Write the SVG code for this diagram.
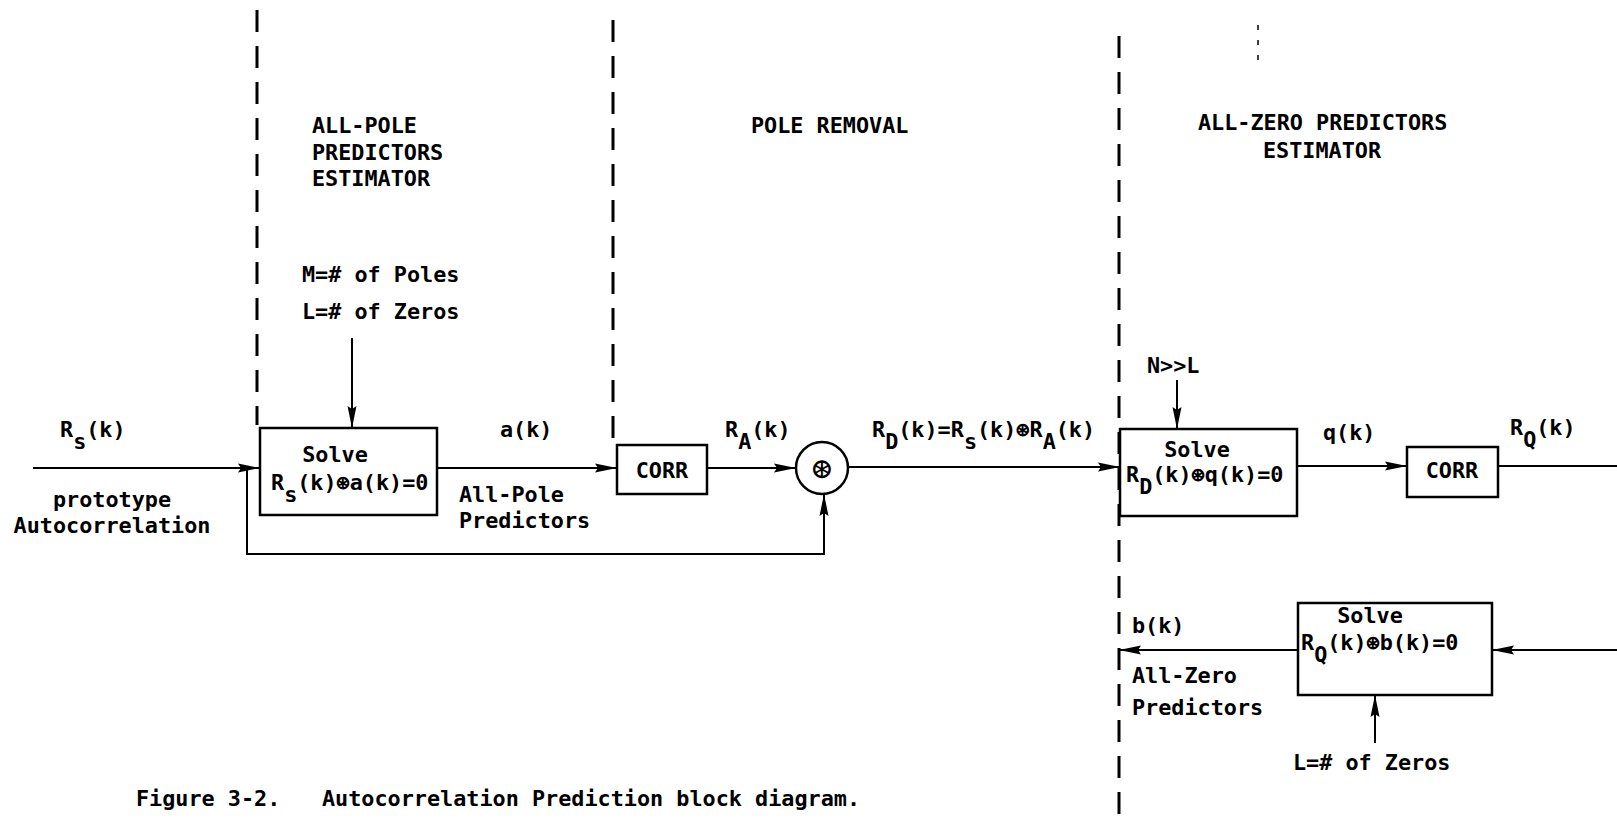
<svg xmlns="http://www.w3.org/2000/svg" width="1617" height="823" viewBox="0 0 1617 823">
<defs>
<marker id="ah" viewBox="0 0 22 10" refX="22" refY="5" markerWidth="22" markerHeight="10" markerUnits="userSpaceOnUse" orient="auto">
<path d="M0,0.5 L22,5 L0,9.5 L3,5 Z" fill="#000"/>
</marker>
</defs>
<style>
text{font-family:"DejaVu Sans Mono","Liberation Mono",monospace;font-size:21.8px;font-weight:bold;fill:#000}
.mid{text-anchor:middle}
.box{fill:none;stroke:#000;stroke-width:2.5}
.ln{fill:none;stroke:#000;stroke-width:2}
.arr{fill:none;stroke:#000;stroke-width:2;marker-end:url(#ah)}
.dash{fill:none;stroke:#000;stroke-width:3;stroke-dasharray:22 14}
</style>
<rect width="1617" height="823" fill="#fff"/>

<g id="boundaries">
<line class="dash" x1="257" y1="10" x2="257" y2="425"/>
<line class="dash" x1="613" y1="20" x2="613" y2="443"/>
<line class="dash" x1="1119" y1="36" x2="1119" y2="823"/>
<line x1="1258" y1="25" x2="1258" y2="70" stroke="#000" stroke-width="1.5" stroke-dasharray="5 10"/>
</g>

<g id="section-labels">
<text x="312" y="133">ALL-POLE</text>
<text x="312" y="160">PREDICTORS</text>
<text x="312" y="186">ESTIMATOR</text>
<text x="751" y="133">POLE REMOVAL</text>
<text x="1198" y="130">ALL-ZERO PREDICTORS</text>
<text x="1263" y="158">ESTIMATOR</text>
</g>

<g id="connectors">
<path class="arr" d="M33,468 H260"/>
<path class="arr" d="M247,468 V554 H824 V494"/>
<path class="arr" d="M352,338 V428"/>
<path class="arr" d="M437,468 H617"/>
<path class="arr" d="M707,468 H796"/>
<path class="arr" d="M848,467 H1120"/>
<path class="arr" d="M1177,380 V429"/>
<path class="arr" d="M1298,466 H1407"/>
<path class="ln" d="M1498,466 H1617"/>
<path class="arr" d="M1617,650 H1492"/>
<path class="arr" d="M1298,650 H1119"/>
<path class="arr" d="M1375,743 V695"/>
</g>

<g id="input-labels">
<text x="60" y="437">R<tspan dy="12">s</tspan><tspan dy="-12">(k)</tspan></text>
<text x="112" y="507" class="mid">prototype</text>
<text x="112" y="533" class="mid">Autocorrelation</text>
<text x="302" y="282">M=# of Poles</text>
<text x="302" y="319">L=# of Zeros</text>
</g>

<g id="solve-allpole">
<rect class="box" x="260" y="428" width="177" height="87"/>
<text x="335" y="462" class="mid">Solve</text>
<text x="271" y="490">R<tspan dy="12">s</tspan><tspan dy="-12">(k)⊛a(k)=0</tspan></text>
</g>

<g id="allpole-labels">
<text x="500" y="437">a(k)</text>
<text x="459" y="502">All-Pole</text>
<text x="459" y="528">Predictors</text>
</g>

<g id="corr1">
<rect class="box" x="617" y="445" width="90" height="49"/>
<text x="662" y="478" class="mid">CORR</text>
</g>

<g id="ra-label">
<text x="725" y="437">R<tspan dy="12">A</tspan><tspan dy="-12">(k)</tspan></text>
</g>

<g id="convolver">
<circle cx="822" cy="468" r="26" fill="#fff" stroke="#000" stroke-width="2.5"/>
<text x="822" y="480" class="mid" style="font-size:34px;font-weight:normal">⊛</text>
</g>

<g id="rd-label">
<text x="872" y="437">R<tspan dy="12">D</tspan><tspan dy="-12">(k)=R</tspan><tspan dy="12">s</tspan><tspan dy="-12">(k)⊛R</tspan><tspan dy="12">A</tspan><tspan dy="-12">(k)</tspan></text>
</g>

<g id="nl-label">
<text x="1147" y="373">N&gt;&gt;L</text>
</g>

<g id="solve-allzero">
<rect class="box" x="1120" y="429" width="177" height="87"/>
<text x="1197" y="457" class="mid">Solve</text>
<text x="1126" y="482">R<tspan dy="12">D</tspan><tspan dy="-12">(k)⊛q(k)=0</tspan></text>
</g>

<g id="q-label">
<text x="1323" y="440">q(k)</text>
</g>

<g id="corr2">
<rect class="box" x="1407" y="447" width="91" height="50"/>
<text x="1452" y="478" class="mid">CORR</text>
</g>

<g id="rq-label">
<text x="1510" y="435">R<tspan dy="12">Q</tspan><tspan dy="-12">(k)</tspan></text>
</g>

<g id="solve-b">
<rect class="box" x="1298" y="603" width="194" height="92"/>
<text x="1370" y="623" class="mid">Solve</text>
<text x="1301" y="650">R<tspan dy="12">Q</tspan><tspan dy="-12">(k)⊛b(k)=0</tspan></text>
</g>

<g id="allzero-labels">
<text x="1132" y="633">b(k)</text>
<text x="1132" y="683">All-Zero</text>
<text x="1132" y="715">Predictors</text>
<text x="1293" y="770">L=# of Zeros</text>
</g>

<g id="caption">
<text x="136" y="806">Figure 3-2.</text>
<text x="322" y="806">Autocorrelation Prediction block diagram.</text>
</g>
</svg>
